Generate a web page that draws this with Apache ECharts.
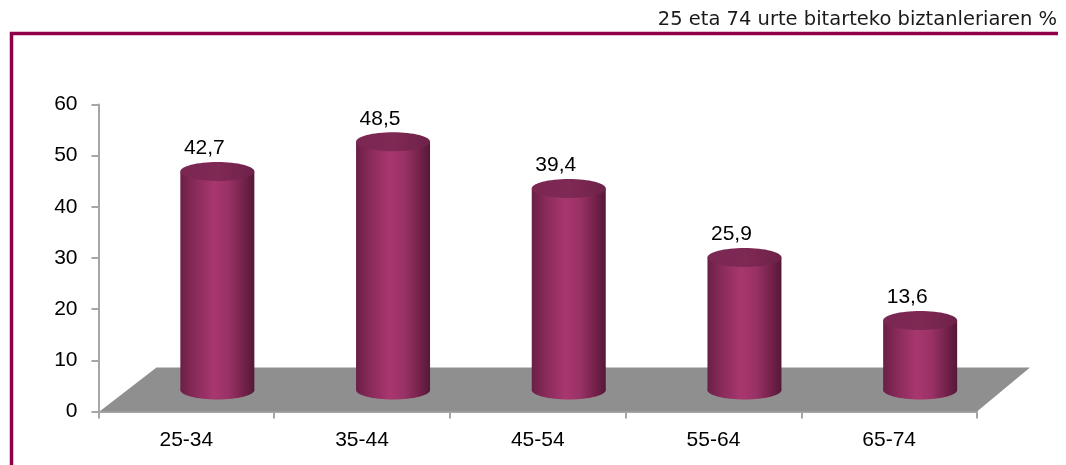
<!DOCTYPE html>
<html>
<head>
<meta charset="utf-8">
<script src="https://cdn.jsdelivr.net/npm/echarts@6/dist/echarts.min.js"></script>
<style>
html,body{margin:0;padding:0;background:#fff;}
#chart{width:1066px;height:465px;}
</style>
</head>
<body>
<div id="chart"></div>
<script>
var categories = ['25-34', '35-44', '45-54', '55-64', '65-74'];
var values = [42.7, 48.5, 39.4, 25.9, 13.6];
var yTicks = { min: 0, max: 60, interval: 10 };
var titleText = '25 eta 74 urte bitarteko biztanleriaren %';

var DEPTH_X = 31, DEPTH_Y = 21.5;   // cylinders sit half way into the 3D floor
var FLOOR_X = 57, FLOOR_Y = 44;
var RX = 37, RY = 9.5;
var NUM_FONT = "'Liberation Sans Narrow', 'Liberation Sans', Arial, sans-serif";

var sideGradient = {
  type: 'linear', x: 0, y: 0, x2: 1, y2: 0,
  colorStops: [
    { offset: 0, color: '#6a1f46' },
    { offset: 0.2, color: '#8a2b5b' },
    { offset: 0.45, color: '#a7376e' },
    { offset: 0.65, color: '#9a3266' },
    { offset: 0.88, color: '#6f2047' },
    { offset: 1, color: '#55183a' }
  ]
};
var topGradient = {
  type: 'linear', x: 0, y: 0, x2: 1, y2: 0,
  colorStops: [
    { offset: 0, color: '#7a2752' },
    { offset: 0.5, color: '#7f2955' },
    { offset: 1, color: '#6e2249' }
  ]
};

function fmt(v) { return String(v.toFixed(1)).replace('.', ','); }

var chart = echarts.init(document.getElementById('chart'), null, { renderer: 'canvas' });
chart.setOption({
  animation: false,
  backgroundColor: '#ffffff',
  title: {
    text: titleText,
    right: 4,
    top: 5,
    textStyle: { fontFamily: 'DejaVu Sans', fontSize: 19.5, fontWeight: 'normal', color: '#1a1a1a' }
  },
  graphic: [{
    type: 'polyline',
    shape: { points: [[11.5, 470], [11.5, 33.5], [1058, 33.5]] },
    style: { stroke: '#8e0047', lineWidth: 3.5, fill: null }
  }],
  grid: { left: 98.5, right: 89, top: 104.5, bottom: 53.5, containLabel: false },
  xAxis: {
    type: 'category',
    data: categories,
    boundaryGap: true,
    axisLine: { lineStyle: { color: '#a6a6a6', width: 2 } },
    axisTick: { show: true, length: 7, lineStyle: { color: '#a6a6a6', width: 2 } },
    axisLabel: { margin: 18, color: '#000', fontFamily: NUM_FONT, fontSize: 21 }
  },
  yAxis: {
    type: 'value',
    min: yTicks.min, max: yTicks.max, interval: yTicks.interval,
    axisLine: { show: true, lineStyle: { color: '#a6a6a6', width: 2 } },
    axisTick: { show: true, length: 7, lineStyle: { color: '#a6a6a6', width: 2 } },
    splitLine: { show: false },
    axisLabel: { margin: 21, color: '#000', fontFamily: NUM_FONT, fontSize: 21 }
  },
  series: [{
    type: 'custom',
    name: 'floor',
    z: 1,
    silent: true,
    data: [0],
    renderItem: function (params, api) {
      var cs = params.coordSys;
      var x0 = cs.x, y0 = cs.y + cs.height, x1 = cs.x + cs.width;
      return {
        type: 'polygon',
        shape: { points: [[x0 + 1, y0], [x0 + FLOOR_X + 1, y0 - FLOOR_Y], [x1 + FLOOR_X - 4, y0 - FLOOR_Y], [x1, y0]] },
        style: { fill: '#8f8f8f' }
      };
    }
  }, {
    type: 'custom',
    name: 'cylinders',
    z: 3,
    data: values.map(function (v, i) { return [i, v]; }),
    encode: { x: 0, y: 1 },
    renderItem: function (params, api) {
      var top = api.coord([api.value(0), api.value(1)]);
      var base = api.coord([api.value(0), 0]);
      var cx = top[0] + DEPTH_X;
      var yt = top[1] - DEPTH_Y;
      var yb = base[1] - DEPTH_Y;
      return {
        type: 'group',
        children: [{
          type: 'ellipse',
          shape: { cx: cx, cy: yb, rx: RX, ry: RY },
          style: { fill: sideGradient }
        }, {
          type: 'rect',
          shape: { x: cx - RX, y: yt, width: RX * 2, height: yb - yt },
          style: { fill: sideGradient }
        }, {
          type: 'ellipse',
          shape: { cx: cx, cy: yt, rx: RX, ry: RY },
          style: { fill: topGradient }
        }, {
          type: 'text',
          x: cx - 13,
          y: yt - 23,
          style: {
            text: fmt(api.value(1)),
            align: 'center', verticalAlign: 'middle',
            fontFamily: NUM_FONT, fontSize: 21, fill: '#000'
          }
        }]
      };
    }
  }]
});
</script>
</body>
</html>
